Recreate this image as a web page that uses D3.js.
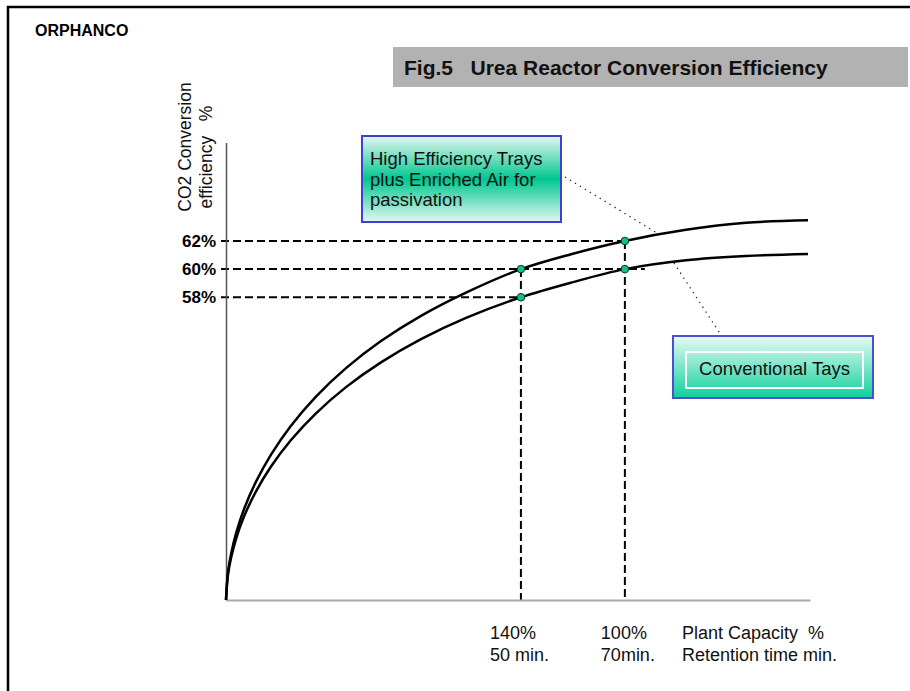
<!DOCTYPE html>
<html><head><meta charset="utf-8">
<script src="https://cdn.jsdelivr.net/npm/d3@7"></script>
<style>body{margin:0;background:#fff}svg{display:block;font-family:"Liberation Sans",Arial,sans-serif}</style>
</head><body><svg id="c" width="910" height="691"></svg>
<script>
// ---- data ----
const yTicks = [58, 60, 62];
const markerPos = [50.5, 68.3];             // positions along the x axis (0-100 units)
const capacityLabels = ["140%", "100%"];
const retentionLabels = ["50 min.", "70min."];
const axisTitleX = ["Plant Capacity  %", "Retention time min."];
const curveX = [0, 0.34, 0.86, 1.71, 3.08, 5.14, 7.71, 11.13, 15.41, 20.55, 26.54, 33.39, 41.10, 50.5, 59.08, 68.3, 78.77, 89.04, 99.66];
const upperY = [36.5, 38.47, 39.75, 41.22, 42.95, 44.91, 46.83, 48.88, 50.95, 52.97, 54.89, 56.68, 58.33, 60.0, 61.06, 62.0, 62.79, 63.29, 63.47];
const lowerY = [36.5, 38.31, 39.48, 40.83, 42.42, 44.22, 45.98, 47.86, 49.76, 51.62, 53.38, 55.03, 56.54, 58.0, 59.04, 60.0, 60.63, 60.93, 61.07];
const markers = [[50.5, 60], [50.5, 58], [68.3, 62], [68.3, 60]];

const svg = d3.select("#c");
const x = d3.scaleLinear().domain([0, 100]).range([226, 810]);
const y = d3.scaleLinear().domain([36.5, 69]).range([600, 142.4]);

// frame
svg.append("rect").attr("x", 8).attr("y", 7).attr("width", 1000).attr("height", 800)
  .attr("fill", "none").attr("stroke", "#000").attr("stroke-width", 2.5);

svg.append("text").attr("x", 35).attr("y", 36).attr("font-size", 16).attr("font-weight", "bold").text("ORPHANCO");

// title bar
svg.append("rect").attr("x", 393).attr("y", 47).attr("width", 515).attr("height", 40).attr("fill", "#b2b2b2");
svg.append("text").attr("x", 404).attr("y", 75).attr("font-size", 21).attr("font-weight", "bold")
  .attr("fill", "#111").attr("xml:space", "preserve").text("Fig.5   Urea Reactor Conversion Efficiency");

// gradients
const defs = svg.append("defs");
const g1 = defs.append("linearGradient").attr("id", "g1").attr("x1", 0).attr("y1", 0).attr("x2", 0).attr("y2", 1);
g1.append("stop").attr("offset", "0%").attr("stop-color", "#e4f8f1");
g1.append("stop").attr("offset", "50%").attr("stop-color", "#00c68f");
g1.append("stop").attr("offset", "100%").attr("stop-color", "#e4f8f1");
const g2 = defs.append("linearGradient").attr("id", "g2").attr("x1", 0).attr("y1", 0).attr("x2", 0).attr("y2", 1);
g2.append("stop").attr("offset", "0%").attr("stop-color", "#e6fbf4");
g2.append("stop").attr("offset", "100%").attr("stop-color", "#0fd09c");

// dashed guides
const dash = svg.append("g").attr("stroke", "#000").attr("stroke-width", 2).attr("stroke-dasharray", "8,4").attr("fill", "none");
dash.append("line").attr("x1", x(0) - 5).attr("x2", x(markerPos[1])).attr("y1", y(62)).attr("y2", y(62));
dash.append("line").attr("x1", x(0) - 5).attr("x2", x(markerPos[1]) + 20).attr("y1", y(60)).attr("y2", y(60));
dash.append("line").attr("x1", x(0) - 5).attr("x2", x(markerPos[0])).attr("y1", y(58)).attr("y2", y(58));
dash.append("line").attr("x1", x(markerPos[0])).attr("x2", x(markerPos[0])).attr("y1", y(60)).attr("y2", y.range()[0]);
dash.append("line").attr("x1", x(markerPos[1])).attr("x2", x(markerPos[1])).attr("y1", y(62)).attr("y2", y.range()[0]);

// axes
const ya = svg.append("g").attr("transform", `translate(${x(0)},0)`)
  .call(d3.axisLeft(y).tickValues(yTicks).tickSize(0).tickPadding(10).tickFormat(d => d + "%"));
ya.select(".domain").attr("stroke", "#555").attr("stroke-width", 1.5);
ya.selectAll("text").attr("font-size", 17).attr("font-weight", "bold").attr("fill", "#000")
  .attr("font-family", "Liberation Sans, Arial, sans-serif");
const xa = svg.append("g").attr("transform", `translate(0,${y.range()[0]})`)
  .call(d3.axisBottom(x).tickValues([]).tickSizeOuter(0));
xa.select(".domain").attr("stroke", "#aaa").attr("stroke-width", 2);

// curves
const line = d3.line().x(d => x(d[0])).y(d => y(d[1])).curve(d3.curveCatmullRom.alpha(0.5));
const upper = curveX.map((v, i) => [v, upperY[i]]);
const lower = curveX.map((v, i) => [v, lowerY[i]]);
[upper, lower].forEach(s => svg.append("path").attr("d", line(s)).attr("fill", "none")
  .attr("stroke", "#000").attr("stroke-width", 2.5));

svg.selectAll("circle.m").data(markers).join("circle").attr("class", "m")
  .attr("cx", d => x(d[0])).attr("cy", d => y(d[1])).attr("r", 3.8)
  .attr("fill", "#10c08e").attr("stroke", "#0a3a2a").attr("stroke-width", 1);

// leader lines
const dots = svg.append("g").attr("stroke", "#222").attr("stroke-width", 1.3).attr("stroke-dasharray", "1.3,4.5");
dots.append("line").attr("x1", 565).attr("y1", 177).attr("x2", 657).attr("y2", 233);
dots.append("line").attr("x1", 674).attr("y1", 263).attr("x2", 721).attr("y2", 335);

// top callout
svg.append("rect").attr("x", 362).attr("y", 136).attr("width", 199).attr("height", 86)
  .attr("fill", "url(#g1)").attr("stroke", "#4040d0").attr("stroke-width", 2);
const t1 = svg.append("text").attr("font-size", 18.5).attr("fill", "#111");
["High Efficiency Trays", "plus Enriched Air for", "passivation"].forEach((s, i) =>
  t1.append("tspan").attr("x", 370).attr("y", 165 + i * 20.5).text(s));

// bottom callout
svg.append("rect").attr("x", 673).attr("y", 336).attr("width", 200).attr("height", 62)
  .attr("fill", "url(#g2)").attr("stroke", "#4a50d0").attr("stroke-width", 2);
svg.append("rect").attr("x", 686).attr("y", 352).attr("width", 177).attr("height", 36)
  .attr("fill", "none").attr("stroke", "#fff").attr("stroke-width", 2);
svg.append("text").attr("x", 774.5).attr("y", 375).attr("text-anchor", "middle").attr("font-size", 18.5)
  .attr("fill", "#111").text("Conventional Tays");

// y axis title (rotated)
const yt = svg.append("text").attr("font-size", 17.5).attr("fill", "#111").attr("xml:space", "preserve")
  .attr("transform", "translate(191,147) rotate(-90)").attr("text-anchor", "middle");
yt.append("tspan").attr("x", 0).attr("y", 0).text("CO2 Conversion");
yt.append("tspan").attr("x", -10).attr("y", 21).text("efficiency   %");

// x labels
const labelOffset = [-31, -24];
const xl = svg.append("g").attr("font-size", 18).attr("fill", "#111");
markerPos.forEach((p, i) => {
  xl.append("text").attr("x", x(p) + labelOffset[i]).attr("y", 639).text(capacityLabels[i]);
  xl.append("text").attr("x", x(p) + labelOffset[i]).attr("y", 661).text(retentionLabels[i]);
});
axisTitleX.forEach((s, i) => xl.append("text").attr("x", 682).attr("y", 639 + i * 22)
  .attr("xml:space", "preserve").text(s));
</script></body></html>
